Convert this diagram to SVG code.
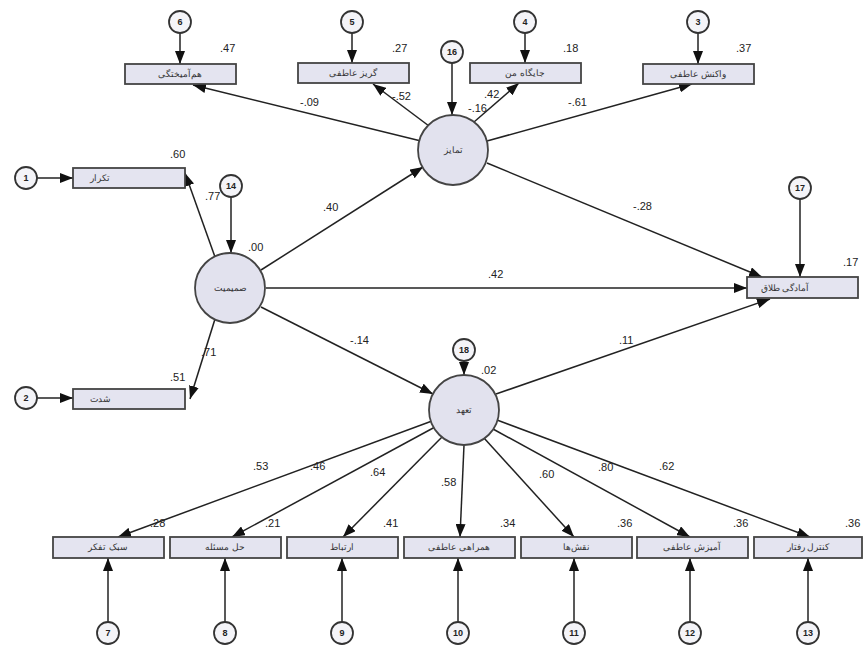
<svg xmlns="http://www.w3.org/2000/svg" width="863" height="654" viewBox="0 0 863 654">
<defs>
<marker id="ah" viewBox="0 0 13 10" refX="13" refY="5" markerWidth="13" markerHeight="10" markerUnits="userSpaceOnUse" orient="auto">
<path d="M0,0 L13,5 L0,10 Z" fill="#111"/>
</marker>
</defs>
<style>
.box{fill:#e4e4f0;stroke:#444;stroke-width:1.8}
.lat{fill:#e2e2ee;stroke:#444;stroke-width:1.8}
.err{fill:#f4f4f8;stroke:#333;stroke-width:1.8}
.ln{stroke:#222;stroke-width:1.5;fill:none;marker-end:url(#ah)}
.num{font-family:"Liberation Sans",Arial,sans-serif;font-size:11px;fill:#222;direction:ltr}
.en{font-family:"Liberation Sans",Arial,sans-serif;font-size:9px;fill:#222;text-anchor:middle;font-weight:bold}
.fa{font-family:"Liberation Sans","Noto Sans",sans-serif;font-size:9px;fill:#333;text-anchor:middle}
</style>
<rect width="863" height="654" fill="#ffffff"/>
<g id="connectors">
<line class="ln" x1="180" y1="33" x2="180" y2="64"/>
<line class="ln" x1="352" y1="33" x2="352" y2="63"/>
<line class="ln" x1="525" y1="33" x2="525" y2="63"/>
<line class="ln" x1="698" y1="33" x2="698" y2="64"/>
<line class="ln" x1="452" y1="63" x2="452" y2="115"/>
<line class="ln" x1="421" y1="141" x2="193" y2="85"/>
<line class="ln" x1="429" y1="126" x2="373" y2="84"/>
<line class="ln" x1="474" y1="122" x2="519" y2="83"/>
<line class="ln" x1="487" y1="141" x2="692" y2="84"/>
<line class="ln" x1="37" y1="178" x2="73" y2="178"/>
<line class="ln" x1="37" y1="398" x2="73" y2="398"/>
<line class="ln" x1="231" y1="197" x2="231" y2="253"/>
<line class="ln" x1="215" y1="257" x2="185" y2="173"/>
<line class="ln" x1="215" y1="319" x2="190" y2="399"/>
<line class="ln" x1="261" y1="270" x2="423" y2="167"/>
<line class="ln" x1="266" y1="288" x2="747" y2="288"/>
<line class="ln" x1="261" y1="307" x2="433" y2="394"/>
<line class="ln" x1="487" y1="163" x2="762" y2="277"/>
<line class="ln" x1="800" y1="199" x2="800" y2="277"/>
<line class="ln" x1="496" y1="394" x2="770" y2="299"/>
<line class="ln" x1="464" y1="361" x2="464" y2="375"/>
<line class="ln" x1="432" y1="421" x2="118" y2="537"/>
<line class="ln" x1="435" y1="427" x2="232" y2="537"/>
<line class="ln" x1="442" y1="437" x2="343" y2="537"/>
<line class="ln" x1="464" y1="445" x2="460" y2="537"/>
<line class="ln" x1="484" y1="438" x2="574" y2="537"/>
<line class="ln" x1="493" y1="429" x2="690" y2="537"/>
<line class="ln" x1="497" y1="420" x2="810" y2="537"/>
<line class="ln" x1="108" y1="622" x2="108" y2="558"/>
<line class="ln" x1="225" y1="622" x2="225" y2="558"/>
<line class="ln" x1="342" y1="622" x2="342" y2="558"/>
<line class="ln" x1="458" y1="622" x2="458" y2="558"/>
<line class="ln" x1="574" y1="622" x2="574" y2="558"/>
<line class="ln" x1="690" y1="622" x2="690" y2="558"/>
<line class="ln" x1="808" y1="622" x2="808" y2="558"/>
</g>
<g id="labels">
<text class="num" x="220" y="52">.47</text>
<text class="num" x="392" y="52">.27</text>
<text class="num" x="563" y="52">.18</text>
<text class="num" x="736" y="52">.37</text>
<text class="num" x="300" y="106">-.09</text>
<text class="num" x="392" y="100">-.52</text>
<text class="num" x="468" y="112">-.16</text>
<text class="num" x="484" y="98">.42</text>
<text class="num" x="568" y="106">-.61</text>
<text class="num" x="170" y="158">.60</text>
<text class="num" x="205" y="200">.77</text>
<text class="num" x="248" y="251">.00</text>
<text class="num" x="323" y="211">.40</text>
<text class="num" x="633" y="210">-.28</text>
<text class="num" x="488" y="278">.42</text>
<text class="num" x="843" y="266">.17</text>
<text class="num" x="350" y="344">-.14</text>
<text class="num" x="619" y="344">.11</text>
<text class="num" x="481" y="374">.02</text>
<text class="num" x="201" y="356">.71</text>
<text class="num" x="170" y="381">.51</text>
<text class="num" x="253" y="470">.53</text>
<text class="num" x="310" y="470">.46</text>
<text class="num" x="370" y="476">.64</text>
<text class="num" x="441" y="486">.58</text>
<text class="num" x="539" y="478">.60</text>
<text class="num" x="598" y="471">.80</text>
<text class="num" x="659" y="470">.62</text>
<text class="num" x="150" y="527">.28</text>
<text class="num" x="265" y="527">.21</text>
<text class="num" x="383" y="527">.41</text>
<text class="num" x="500" y="527">.34</text>
<text class="num" x="617" y="527">.36</text>
<text class="num" x="733" y="527">.36</text>
<text class="num" x="845" y="527">.36</text>
</g>
<g id="lat_tamayoz"><circle class="lat" cx="453" cy="150" r="35"/><text class="fa" x="453" y="153">تمایز</text></g>
<g id="lat_left"><circle class="lat" cx="230" cy="288" r="35"/><text class="fa" x="230" y="291">صمیمیت</text></g>
<g id="lat_bottom"><circle class="lat" cx="464" cy="410" r="35"/><text class="fa" x="464" y="413">تعهد</text></g>
<g id="box6"><rect class="box" x="125" y="64" width="111" height="20"/><text class="fa" x="180" y="77">هم‌آمیختگی</text></g>
<g id="box5"><rect class="box" x="298" y="63" width="111" height="20"/><text class="fa" x="353" y="76">گریز عاطفی</text></g>
<g id="box4"><rect class="box" x="470" y="63" width="111" height="20"/><text class="fa" x="525" y="76">جایگاه من</text></g>
<g id="box3"><rect class="box" x="643" y="64" width="111" height="20"/><text class="fa" x="698" y="77">واکنش عاطفی</text></g>
<g id="box1"><rect class="box" x="73" y="168" width="112" height="20"/><text class="fa" x="100" y="181">تکرار</text></g>
<g id="box2"><rect class="box" x="73" y="389" width="112" height="20"/><text class="fa" x="100" y="402">شدت</text></g>
<g id="boxDV"><rect class="box" x="747" y="277" width="111" height="21"/><text class="fa" x="785" y="291">آمادگی طلاق</text></g>
<g id="box7"><rect class="box" x="53" y="537" width="111" height="21"/><text class="fa" x="108" y="550">سبک تفکر</text></g>
<g id="box8"><rect class="box" x="170" y="537" width="111" height="21"/><text class="fa" x="225" y="550">حل مسئله</text></g>
<g id="box9"><rect class="box" x="287" y="537" width="111" height="21"/><text class="fa" x="342" y="550">ارتباط</text></g>
<g id="box10"><rect class="box" x="404" y="537" width="111" height="21"/><text class="fa" x="459" y="550">همراهی عاطفی</text></g>
<g id="box11"><rect class="box" x="521" y="537" width="111" height="21"/><text class="fa" x="576" y="550">نقش‌ها</text></g>
<g id="box12"><rect class="box" x="637" y="537" width="111" height="21"/><text class="fa" x="692" y="550">آمیزش عاطفی</text></g>
<g id="box13"><rect class="box" x="754" y="537" width="108" height="21"/><text class="fa" x="808" y="550">کنترل رفتار</text></g>
<g id="e6"><circle class="err" cx="180" cy="22" r="11"/><text class="en" x="180" y="25">6</text></g>
<g id="e5"><circle class="err" cx="352" cy="22" r="11"/><text class="en" x="352" y="25">5</text></g>
<g id="e4"><circle class="err" cx="525" cy="22" r="11"/><text class="en" x="525" y="25">4</text></g>
<g id="e3"><circle class="err" cx="698" cy="22" r="11"/><text class="en" x="698" y="25">3</text></g>
<g id="e16"><circle class="err" cx="452" cy="52" r="11"/><text class="en" x="452" y="55">16</text></g>
<g id="e1"><circle class="err" cx="26" cy="178" r="11"/><text class="en" x="26" y="181">1</text></g>
<g id="e2"><circle class="err" cx="26" cy="398" r="11"/><text class="en" x="26" y="401">2</text></g>
<g id="e14"><circle class="err" cx="231" cy="186" r="11"/><text class="en" x="231" y="189">14</text></g>
<g id="e17"><circle class="err" cx="800" cy="188" r="11"/><text class="en" x="800" y="191">17</text></g>
<g id="e18"><circle class="err" cx="464" cy="350" r="11"/><text class="en" x="464" y="353">18</text></g>
<g id="e7"><circle class="err" cx="108" cy="633" r="11"/><text class="en" x="108" y="636">7</text></g>
<g id="e8"><circle class="err" cx="225" cy="633" r="11"/><text class="en" x="225" y="636">8</text></g>
<g id="e9"><circle class="err" cx="342" cy="633" r="11"/><text class="en" x="342" y="636">9</text></g>
<g id="e10"><circle class="err" cx="458" cy="633" r="11"/><text class="en" x="458" y="636">10</text></g>
<g id="e11"><circle class="err" cx="574" cy="633" r="11"/><text class="en" x="574" y="636">11</text></g>
<g id="e12"><circle class="err" cx="690" cy="633" r="11"/><text class="en" x="690" y="636">12</text></g>
<g id="e13"><circle class="err" cx="808" cy="633" r="11"/><text class="en" x="808" y="636">13</text></g>
</svg>
